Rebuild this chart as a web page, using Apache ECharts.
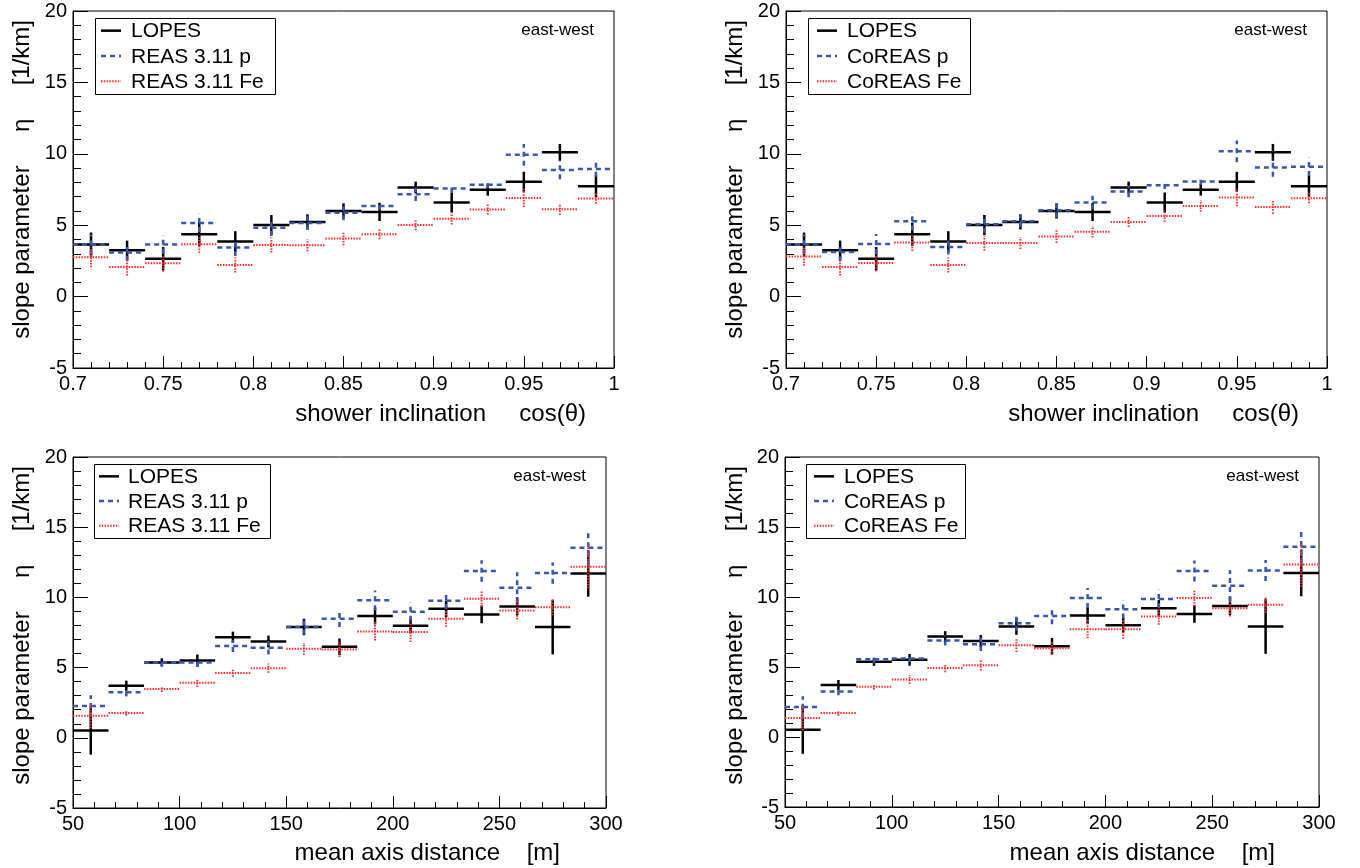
<!DOCTYPE html>
<html><head><meta charset="utf-8">
<script src="https://cdn.jsdelivr.net/npm/echarts@6/dist/echarts.min.js"></script>
<style>html,body{margin:0;padding:0;background:#fff}#c{width:1360px;height:868px}</style>
</head><body><div id="c"></div>
<script>
// ---- bins ----
const cosBins = [0.71, 0.73, 0.75, 0.77, 0.79, 0.81, 0.83, 0.85, 0.87, 0.89, 0.91, 0.93, 0.95, 0.97, 0.99];
const cosHalfWidth = 0.01;
const distBins = [58.33, 75, 91.67, 108.33, 125, 141.67, 158.33, 175, 191.67, 208.33, 225, 241.67, 258.33, 275, 291.67];
const distHalfWidth = 8.333;

// ---- top panels: slope parameter vs cos(theta) ----
const lopesCos    = [3.64, 3.24, 2.65, 4.36, 3.85, 5.02, 5.23, 6.00, 5.93, 7.64, 6.59, 7.48, 8.04, 10.10, 7.73];
const lopesCosErr = [0.85, 0.68, 0.82, 0.82, 0.73, 0.70, 0.53, 0.53, 0.64, 0.41, 0.70, 0.41, 0.70, 0.59, 0.76];
const reasPCos    = [3.64, 3.08, 3.64, 5.16, 3.43, 4.83, 5.16, 5.88, 6.35, 7.17, 7.57, 7.83, 9.93, 8.86, 8.93];
const reasPCosErr = [0.70, 0.59, 0.64, 0.64, 0.59, 0.59, 0.47, 0.53, 0.29, 0.47, 0.29, 0.23, 0.76, 0.64, 0.53];
const reasFeCos    = [2.75, 2.07, 2.33, 3.66, 2.21, 3.61, 3.59, 4.06, 4.36, 5.02, 5.46, 6.10, 6.91, 6.12, 6.87];
const reasFeCosErr = [0.70, 0.59, 0.59, 0.59, 0.53, 0.53, 0.41, 0.47, 0.35, 0.37, 0.41, 0.35, 0.64, 0.40, 0.35];
const coreasPCos    = [3.66, 3.12, 3.68, 5.28, 3.47, 5.07, 5.28, 6.05, 6.59, 7.36, 7.80, 8.06, 10.17, 9.04, 9.09];
const coreasPCosErr = [0.70, 0.64, 0.70, 0.64, 0.53, 0.59, 0.41, 0.49, 0.47, 0.41, 0.26, 0.23, 0.76, 0.64, 0.64];
const coreasFeCos    = [2.80, 2.07, 2.35, 3.78, 2.21, 3.75, 3.75, 4.20, 4.55, 5.23, 5.65, 6.35, 6.94, 6.28, 6.89];
const coreasFeCosErr = [0.64, 0.59, 0.59, 0.59, 0.53, 0.53, 0.41, 0.44, 0.41, 0.35, 0.41, 0.41, 0.62, 0.47, 0.35];

// ---- bottom panels: slope parameter vs mean axis distance ----
const lopesDist    = [0.52, 3.71, 5.37, 5.51, 7.17, 6.86, 7.89, 6.48, 8.67, 7.98, 9.19, 8.79, 9.36, 7.89, 11.71];
const lopesDistErr = [1.72, 0.36, 0.29, 0.42, 0.39, 0.42, 0.59, 0.59, 0.59, 0.53, 0.59, 0.63, 0.65, 1.95, 1.66];
const reasPDist    = [2.26, 3.25, 5.37, 5.37, 6.53, 6.41, 7.89, 8.48, 9.79, 8.98, 9.76, 11.88, 10.69, 11.73, 13.54];
const reasPDistErr = [0.77, 0.30, 0.30, 0.33, 0.42, 0.48, 0.53, 0.59, 0.71, 0.65, 0.59, 0.77, 1.10, 0.76, 1.25];
const reasFeDist    = [1.57, 1.76, 3.47, 3.92, 4.61, 4.96, 6.34, 6.29, 7.58, 7.53, 8.48, 9.90, 9.07, 9.29, 12.19];
const reasFeDistErr = [0.89, 0.18, 0.20, 0.30, 0.26, 0.33, 0.42, 0.53, 0.65, 0.71, 0.57, 0.59, 0.65, 0.56, 1.54];
const coreasPDist    = [2.14, 3.25, 5.56, 5.61, 6.89, 6.63, 8.12, 8.65, 9.93, 9.12, 9.86, 11.85, 10.81, 11.90, 13.59];
const coreasPDistErr = [0.77, 0.27, 0.30, 0.27, 0.36, 0.48, 0.53, 0.59, 0.71, 0.65, 0.65, 0.75, 1.10, 0.75, 1.24];
const coreasFeDist    = [1.35, 1.71, 3.59, 4.11, 4.92, 5.13, 6.56, 6.34, 7.70, 7.70, 8.60, 9.93, 9.19, 9.45, 12.33];
const coreasFeDistErr = [0.89, 0.19, 0.20, 0.32, 0.30, 0.38, 0.48, 0.48, 0.65, 0.69, 0.59, 0.59, 0.59, 0.59, 1.60];

// ---- text ----
const yTitle = 'slope parameter     \u03b7     [1/km]';
const xTitleCos = 'shower inclination     cos(\u03b8)';
const xTitleDist = 'mean axis distance    [m]';
const cornerText = 'east-west';
const legendNames = [
  ['LOPES', 'REAS 3.11 p', 'REAS 3.11 Fe'],
  ['LOPES', 'CoREAS p', 'CoREAS Fe'],
  ['LOPES', 'REAS 3.11 p', 'REAS 3.11 Fe'],
  ['LOPES', 'CoREAS p', 'CoREAS Fe']
];

const FONT = '"Liberation Sans", Arial, Helvetica, sans-serif';
const styles = [
  {color: '#000000', width: 2.5, dash: null},
  {color: '#3656b0', width: 2.5, dash: [5, 4]},
  {color: '#ff2a2a', width: 2, dash: [1.5, 1.3]}
];

const grids = [
  {left: 73, top: 11, width: 541, height: 357},
  {left: 786, top: 11, width: 541, height: 357},
  {left: 73, top: 457, width: 533, height: 351},
  {left: 785, top: 457, width: 534, height: 350}
];

function errSeries(name, idx, centers, hw, vals, errs, st, z) {
  return {
    type: 'custom', name: name, xAxisIndex: idx, yAxisIndex: idx, z: z,
    data: centers.map((c, i) => [c, vals[i], errs[i]]),
    encode: {x: 0, y: 1},
    clip: true,
    renderItem: function (params, api) {
      const x = api.value(0), y = api.value(1), e = api.value(2);
      const a = api.coord([x - hw, y]), b = api.coord([x + hw, y]);
      const c = api.coord([x, y - e]), d = api.coord([x, y + e]);
      const s = {stroke: st.color, lineWidth: st.width, lineDash: st.dash, fill: null};
      return {type: 'group', children: [
        {type: 'line', shape: {x1: a[0], y1: a[1], x2: b[0], y2: b[1]}, style: s},
        {type: 'line', shape: {x1: c[0], y1: c[1], x2: d[0], y2: d[1]}, style: s}
      ]};
    }
  };
}

function fmt(v) { return String(Math.round(v * 1000) / 1000); }

const xAxes = grids.map((g, i) => {
  const top = i < 2;
  return {
    type: 'value', gridIndex: i,
    min: top ? 0.7 : 50, max: top ? 1 : 300, interval: top ? 0.05 : 50,
    axisLine: {show: true, onZero: false, lineStyle: {color: '#000', width: 1}},
    axisTick: {show: true, inside: true, length: 12, lineStyle: {color: '#000', width: 1}},
    minorTick: {show: true, splitNumber: 5, length: 6, lineStyle: {color: '#000', width: 1}},
    splitLine: {show: false},
    axisLabel: {color: '#000', fontFamily: FONT, fontSize: 20, margin: 6, formatter: fmt, showMinLabel: true, showMaxLabel: true}
  };
});
const yAxes = grids.map((g, i) => ({
  type: 'value', gridIndex: i, min: -5, max: 20, interval: 5,
  axisLine: {show: true, onZero: false, lineStyle: {color: '#000', width: 1}},
  axisTick: {show: true, inside: true, length: 15, lineStyle: {color: '#000', width: 1}},
  minorTick: {show: true, splitNumber: 5, length: 8, lineStyle: {color: '#000', width: 1}},
  splitLine: {show: false},
  axisLabel: {color: '#000', fontFamily: FONT, fontSize: 20, margin: 6, formatter: fmt}
}));

const panelData = [
  {x: cosBins, hw: cosHalfWidth, l: lopesCos, le: lopesCosErr, p: reasPCos, pe: reasPCosErr, f: reasFeCos, fe: reasFeCosErr},
  {x: cosBins, hw: cosHalfWidth, l: lopesCos, le: lopesCosErr, p: coreasPCos, pe: coreasPCosErr, f: coreasFeCos, fe: coreasFeCosErr},
  {x: distBins, hw: distHalfWidth, l: lopesDist, le: lopesDistErr, p: reasPDist, pe: reasPDistErr, f: reasFeDist, fe: reasFeDistErr},
  {x: distBins, hw: distHalfWidth, l: lopesDist, le: lopesDistErr, p: coreasPDist, pe: coreasPDistErr, f: coreasFeDist, fe: coreasFeDistErr}
];

const series = [];
panelData.forEach((pd, i) => {
  series.push(errSeries(legendNames[i][0] + ' ' + i, i, pd.x, pd.hw, pd.l, pd.le, styles[0], 2));
  series.push(errSeries(legendNames[i][1] + ' ' + i, i, pd.x, pd.hw, pd.p, pd.pe, styles[1], 3));
  series.push(errSeries(legendNames[i][2] + ' ' + i, i, pd.x, pd.hw, pd.f, pd.fe, styles[2], 4));
});

// legend boxes, corner labels and axis titles (graphic)
const legendBoxes = [
  {x: 95, y: 18, w: 180, h: 76, sx: 6, tx: 36},
  {x: 808, y: 18, w: 162, h: 76, sx: 9, tx: 39},
  {x: 94, y: 464, w: 176, h: 74, sx: 5, tx: 34},
  {x: 806, y: 464, w: 159, h: 74, sx: 8, tx: 38}
];
const yTitleX = [22, 735, 22, 735];
const graphics = [];
legendBoxes.forEach((b, i) => {
  graphics.push({type: 'rect', shape: {x: b.x + 0.5, y: b.y + 0.5, width: b.w, height: b.h},
    style: {fill: '#fff', stroke: '#000', lineWidth: 1}, z: 10});
  const rowH = b.h / 3;
  for (let k = 0; k < 3; k++) {
    const cy = b.y + rowH * (k + 0.5);
    graphics.push({type: 'line', shape: {x1: b.x + b.sx, y1: cy, x2: b.x + b.sx + 20, y2: cy},
      style: {stroke: styles[k].color, lineWidth: styles[k].width, lineDash: styles[k].dash}, z: 11});
    graphics.push({type: 'text', x: b.x + b.tx, y: cy + 1,
      style: {text: legendNames[i][k], font: '21px ' + FONT, fill: '#000', textVerticalAlign: 'middle', textAlign: 'left'}, z: 11});
  }
  const g = grids[i];
  graphics.push({type: 'text', x: g.left + g.width - 20, y: g.top + 19,
    style: {text: cornerText, font: '17px ' + FONT, fill: '#000', textAlign: 'right', textVerticalAlign: 'middle'}, z: 11});
  graphics.push({type: 'text', x: yTitleX[i], y: g.top + 9, rotation: Math.PI / 2,
    style: {text: yTitle, font: '24px ' + FONT, fill: '#000', textAlign: 'right', textVerticalAlign: 'middle'}, z: 11});
});

const xTitles = [
  {x: 586, y: 414, t: xTitleCos},
  {x: 1299, y: 414, t: xTitleCos},
  {x: 560, y: 853, t: xTitleDist},
  {x: 1275, y: 853, t: xTitleDist}
];
xTitles.forEach(t => graphics.push({type: 'text', x: t.x, y: t.y,
  style: {text: t.t, font: '24px ' + FONT, fill: '#000', textAlign: 'right', textVerticalAlign: 'middle'}, z: 11}));

const chart = echarts.init(document.getElementById('c'), null, {renderer: 'canvas'});
chart.setOption({
  backgroundColor: '#fff',
  animation: false,
  grid: grids.map(g => Object.assign({show: true, borderColor: '#000', borderWidth: 1, backgroundColor: 'transparent', containLabel: false}, g)),
  xAxis: xAxes,
  yAxis: yAxes,
  series: series,
  graphic: graphics
});
</script></body></html>
